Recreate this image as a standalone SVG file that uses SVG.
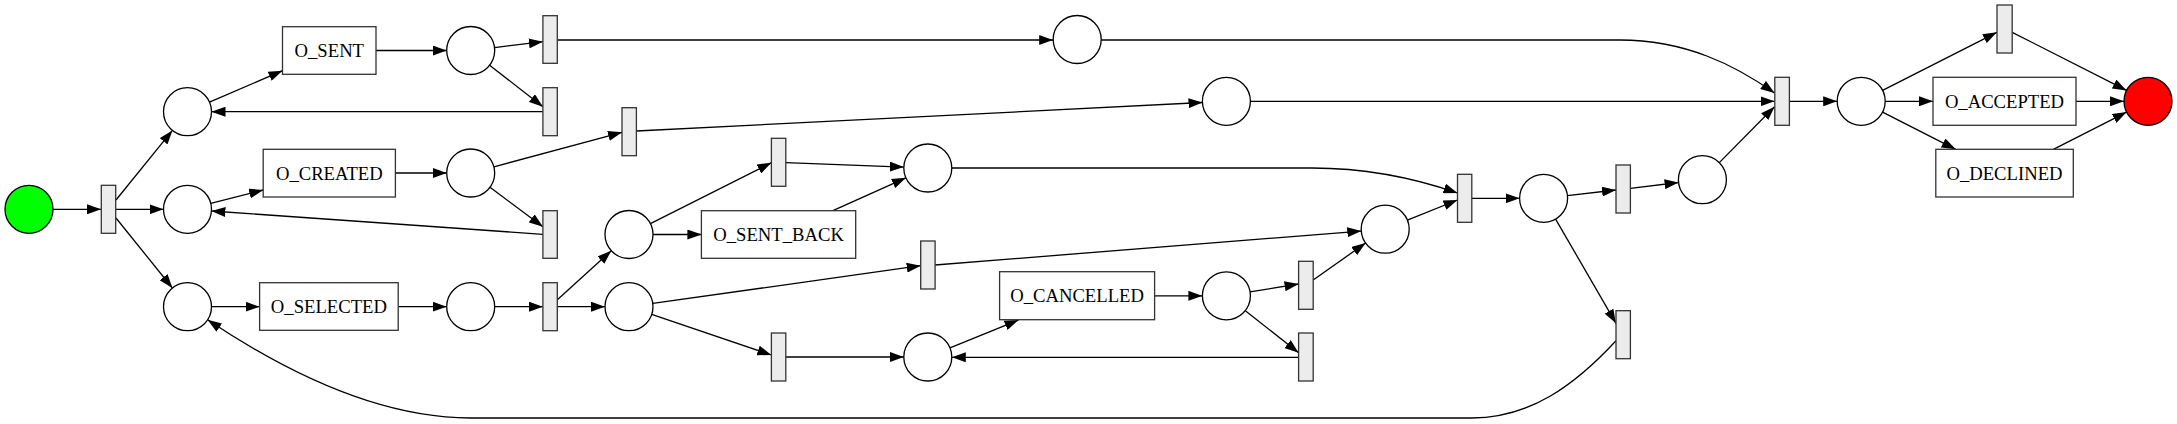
<svg xmlns="http://www.w3.org/2000/svg" width="2177" height="424" viewBox="0 0 2177 424">
<style>
.p{fill:#fff;stroke:#000;stroke-width:1.3}
.t{fill:#ececec;stroke:#333;stroke-width:1.3}
.b{fill:#fff;stroke:#333;stroke-width:1.3}
.l{font-family:"Liberation Serif","Times New Roman",serif;font-size:18.67px;text-anchor:middle;fill:#000}
.e{fill:none;stroke:#000;stroke-width:1.3;marker-end:url(#a)}
</style>
<defs>
<marker id="a" markerUnits="userSpaceOnUse" markerWidth="14" markerHeight="10" refX="14" refY="5" orient="auto" viewBox="0 0 14 10">
<path d="M0,0 L14,5 L0,10 z" fill="#000"/>
</marker>
</defs>
<rect width="2177" height="424" fill="#fff"/>
<g id="connectors">
<path class="e" d="M53,209.3 L101,209.3"/>
<path class="e" d="M116,200 L172.4,130.4"/>
<path class="e" d="M116,209.3 L163.5,209.3"/>
<path class="e" d="M116,218 L172.4,288"/>
<path class="e" d="M209.5,102.2 L282.5,70.7"/>
<path class="e" d="M376,50.5 L446.7,50.5"/>
<path class="e" d="M494.5,47.6 L542.9,41.7"/>
<path class="e" d="M489.6,65.2 L542.9,106.7"/>
<path class="e" d="M542.9,111.7 L211.5,111.7"/>
<path class="e" d="M210.8,203.4 L263.2,190"/>
<path class="e" d="M395.4,173 L446.7,173"/>
<path class="e" d="M493.9,166.8 L622,132.3"/>
<path class="e" d="M490,187.3 L542.9,226.7"/>
<path class="e" d="M542.9,234.3 L211.4,211"/>
<path class="e" d="M211.5,306.7 L259.6,306.7"/>
<path class="e" d="M398.2,306.7 L446.7,306.7"/>
<path class="e" d="M494.7,306.7 L542.9,306.7"/>
<path class="e" d="M557.1,300 L611.3,250.7"/>
<path class="e" d="M557.1,306.7 L605,306.7"/>
<path class="e" d="M557.1,40 L1053.2,40"/>
<path class="e" d="M636.4,131 L1202.5,102.5"/>
<path class="e" d="M650.4,223.7 L771.4,162.7"/>
<path class="e" d="M653,234.5 L701.4,234.5"/>
<path class="e" d="M785.7,162.7 L903.8,167.1"/>
<path class="e" d="M832.9,210.7 L905.9,177.8"/>
<path class="e" d="M951.8,168 L1312,168 C1370,168 1420,180 1457.5,193"/>
<path class="e" d="M652.8,303.4 L920.7,265.7"/>
<path class="e" d="M651.7,314.4 L771.4,355"/>
<path class="e" d="M935,265 L1361.3,231.1"/>
<path class="e" d="M785.7,357 L903.8,357"/>
<path class="e" d="M950,347.9 L1018.6,320"/>
<path class="e" d="M1154.6,295.8 L1202.4,295.8"/>
<path class="e" d="M1250.1,291.9 L1298.6,284"/>
<path class="e" d="M1245.3,310.7 L1298.6,352.7"/>
<path class="e" d="M1298.6,357.3 L951.8,357.3"/>
<path class="e" d="M1313.2,280 L1365.6,243"/>
<path class="e" d="M1407.4,220.2 L1457.5,200"/>
<path class="e" d="M1471.8,198.3 L1519.6,198.3"/>
<path class="e" d="M1567.4,195.6 L1616,190"/>
<path class="e" d="M1555.6,219.1 L1616,323.3"/>
<path class="e" d="M1616,340.7 C1575,385 1530,418 1472,418 L470,418 C380,418 290,375 207.6,319.8"/>
<path class="e" d="M1630.4,188.3 L1678.6,182.5"/>
<path class="e" d="M1719.3,162.6 L1774.5,106.7"/>
<path class="e" d="M1101.2,40 L1620,40 C1685,40 1735,65 1774.5,93"/>
<path class="e" d="M1250.4,101.3 L1774.5,101.3"/>
<path class="e" d="M1789.5,101.3 L1837.2,101.3"/>
<path class="e" d="M1882.6,90.4 L1996.9,32.3"/>
<path class="e" d="M1885.2,101.3 L1933,101.3"/>
<path class="e" d="M1882.6,112.2 L1955.7,149.3"/>
<path class="e" d="M2012.2,32.3 L2126.6,90.4"/>
<path class="e" d="M2076,101.3 L2124,101.3"/>
<path class="e" d="M2053.4,149.3 L2126.6,112.1"/>
</g>
<g id="start"><circle cx="29" cy="209.3" r="24" fill="#00ff00" stroke="#000" stroke-width="1.3"/></g>
<g id="t0"><rect class="t" x="101.3" y="185.3" width="14.4" height="48"/></g>
<g id="p1"><circle class="p" cx="187.5" cy="111.7" r="24"/></g>
<g id="p2"><circle class="p" cx="187.5" cy="209.3" r="24"/></g>
<g id="p3"><circle class="p" cx="187.5" cy="306.7" r="24"/></g>
<g id="O_SENT"><rect class="b" x="282.5" y="26.7" width="93.5" height="47.6"/><text class="l" x="329.3" y="57">O_SENT</text></g>
<g id="O_CREATED"><rect class="b" x="263.2" y="149.3" width="132.2" height="47.7"/><text class="l" x="329.3" y="179.6">O_CREATED</text></g>
<g id="O_SELECTED"><rect class="b" x="259.6" y="282.7" width="138.6" height="47.6"/><text class="l" x="328.9" y="313">O_SELECTED</text></g>
<g id="p_sent"><circle class="p" cx="470.7" cy="50.5" r="24"/></g>
<g id="p_created"><circle class="p" cx="470.7" cy="173" r="24"/></g>
<g id="p_selected"><circle class="p" cx="470.7" cy="306.7" r="24"/></g>
<g id="ta"><rect class="t" x="542.9" y="15.7" width="14.4" height="47.6"/></g>
<g id="tb"><rect class="t" x="542.9" y="87.7" width="14.4" height="48"/></g>
<g id="tc"><rect class="t" x="542.9" y="210.7" width="14.4" height="47.6"/></g>
<g id="td"><rect class="t" x="542.9" y="282.7" width="14.4" height="48"/></g>
<g id="te"><rect class="t" x="622" y="107.7" width="14.4" height="48"/></g>
<g id="p_sel1"><circle class="p" cx="629" cy="234.5" r="24"/></g>
<g id="p_sel2"><circle class="p" cx="629" cy="306.7" r="24"/></g>
<g id="O_SENT_BACK"><rect class="b" x="701.4" y="210.7" width="154.3" height="47.6"/><text class="l" x="778.6" y="241">O_SENT_BACK</text></g>
<g id="tf"><rect class="t" x="771.4" y="138.3" width="14.4" height="48"/></g>
<g id="th"><rect class="t" x="771.4" y="333" width="14.4" height="48"/></g>
<g id="p_sb"><circle class="p" cx="927.8" cy="168" r="24"/></g>
<g id="tg"><rect class="t" x="920.7" y="241" width="14.4" height="48"/></g>
<g id="p_c"><circle class="p" cx="927.8" cy="357" r="24"/></g>
<g id="O_CANCELLED"><rect class="b" x="999.6" y="271.7" width="155" height="48"/><text class="l" x="1077.1" y="302.2">O_CANCELLED</text></g>
<g id="p_a"><circle class="p" cx="1077.2" cy="39.5" r="24"/></g>
<g id="p_e"><circle class="p" cx="1226.4" cy="101.3" r="24"/></g>
<g id="p_co"><circle class="p" cx="1226.4" cy="295.8" r="24"/></g>
<g id="ti"><rect class="t" x="1298.6" y="261.3" width="14.6" height="48"/></g>
<g id="tj"><rect class="t" x="1298.6" y="333" width="14.6" height="48"/></g>
<g id="p_g"><circle class="p" cx="1385.2" cy="229.2" r="24"/></g>
<g id="tk"><rect class="t" x="1457.5" y="174.3" width="14.3" height="48"/></g>
<g id="p_k"><circle class="p" cx="1543.6" cy="198.3" r="24"/></g>
<g id="tl"><rect class="t" x="1616" y="165" width="14.4" height="48"/></g>
<g id="tm"><rect class="t" x="1616" y="310.7" width="14.4" height="48"/></g>
<g id="p_l"><circle class="p" cx="1702.4" cy="179.7" r="24"/></g>
<g id="tn"><rect class="t" x="1774.8" y="77.3" width="14.6" height="48"/></g>
<g id="p_n"><circle class="p" cx="1861.2" cy="101.3" r="24"/></g>
<g id="to"><rect class="t" x="1997" y="5" width="15.2" height="48"/></g>
<g id="O_ACCEPTED"><rect class="b" x="1933" y="77.3" width="143" height="48"/><text class="l" x="2004.5" y="107.8">O_ACCEPTED</text></g>
<g id="O_DECLINED"><rect class="b" x="1935.8" y="149.3" width="137.5" height="47.7"/><text class="l" x="2004.5" y="179.6">O_DECLINED</text></g>
<g id="end"><circle cx="2148" cy="101.3" r="24" fill="#ff0000" stroke="#000" stroke-width="1.3"/></g>
</svg>
